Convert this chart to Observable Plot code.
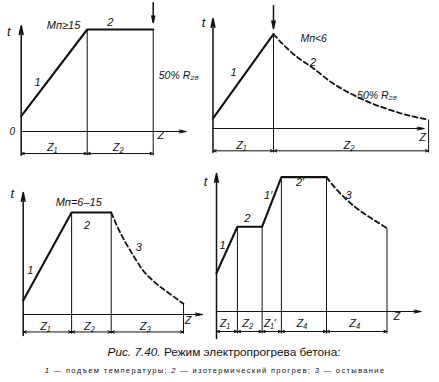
<!DOCTYPE html>
<html><head><meta charset="utf-8">
<script src="https://cdn.jsdelivr.net/npm/d3@7"></script>
<script src="https://cdn.jsdelivr.net/npm/@observablehq/plot@0.6"></script>
<style>
body{margin:0;background:#fff;}
#wrap{position:relative;width:439px;height:382px;overflow:hidden;}
#wrap svg{position:absolute;left:0;top:0;overflow:visible;background:transparent;}
#cap1{position:absolute;top:345px;left:0;width:448px;text-align:center;font-family:"Liberation Sans",sans-serif;font-size:11.8px;color:#111;}
#cap1 i{font-style:italic;}
#cap2{position:absolute;top:366px;left:0;width:430px;text-align:center;font-family:"Liberation Sans",sans-serif;font-size:7.6px;letter-spacing:1.3px;color:#111;}
</style></head>
<body>
<div id="wrap">
<div id="cap1"><i>Рис. 7.40.</i> Режим электропрогрева бетона:</div>
<div id="cap2"><i>1</i> — подъем температуры; <i>2</i> — изотермический прогрев; <i>3</i> — остывание</div>
</div>
<script>
// ---------- data (z = time units, t = temperature units) ----------
// Panel A: Mп ≥ 15 — rise, isothermal hold
const aSolidZ = [0, 6, 12];
const aSolidT = [12, 80, 80];
const aBounds = [0, 6, 12];
const aStages = ["Z₁", "Z₂"];

// Panel B: Mп < 6 — rise, cooling
const bSolidZ = [0, 5.5];
const bSolidT = [8, 74];
const bDashZ = [5.5, 6.6, 7.8, 9, 10.8, 12.6, 14.5, 16.3, 18.1, 19.6];
const bDashT = [74, 64, 55, 48, 36, 27, 19.5, 14, 9.5, 7];
const bBounds = [0, 5.5, 19.6];
const bStages = ["Z₁", "Z₂"];

// Panel C: Mп = 6–15 — rise, hold, cooling
const cSolidZ = [0, 4.4, 8];
const cSolidT = [11, 80, 80];
const cDashZ = [8, 8.5, 9.27, 10.03, 10.9, 12, 13.36, 14.57];
const cDashT = [80, 70, 57, 46, 34.5, 25, 16, 8.4];
const cBounds = [0, 4.4, 8, 14.57];
const cStages = ["Z₁", "Z₂", "Z₃"];

// Panel D: two-step rise and hold, cooling
const dSolidZ = [0, 1.9, 4.15, 5.9, 10];
const dSolidT = [24, 53, 53, 84, 84];
const dDashZ = [10, 10.75, 11.66, 12.57, 13.8, 14.7, 15.5];
const dDashT = [84, 77.5, 71, 65.5, 59.5, 55.5, 52];
const dBounds = [0, 1.9, 4.15, 5.9, 10, 15.5];
const dStages = ["Z₁", "Z₂", "Z₁′", "Z₄", "Z₄"];

// curve annotations [text, z, t, flags]
const aNotes = [["Mп≥15", 3.85, 83.1, "b"], ["2", 8.1, 85.3], ["1", 1.48, 38.4], ["50% R₂₈", 12.5, 43.9, "s"]];
const bNotes = [["1", 1.86, 43.9], ["Mп<6", 7.95, 70.4, "sb"], ["2", 9.1, 52], ["50% R₂₈", 13.1, 25.9, "s"]];
const cNotes = [["Mп=6–15", 5.05, 87.8, "b"], ["2", 5.8, 69.8], ["1", 0.64, 34.5], ["3", 10.5, 52.8]];
const dNotes = [["1", 0.55, 41], ["2", 2.8, 58], ["1′", 4.7, 72.5], ["2′", 7.6, 80.6], ["3", 12, 72.5]];

// ---------- layout ----------
const panels = [
  {solidZ: aSolidZ, solidT: aSolidT, dashZ: [], dashT: [], bounds: aBounds, stages: aStages, notes: aNotes,
   origin: [20.7, 131], k: [11, 1.275], yAxis: [-18.8, 83], xEnd: 15, dimT: -17.3, labT: -12.2, vBot: -18.8,
   down: [12, 101, 85.5], zLab: [12.4, -3.1, "start"], tLab: [-1.13, 78], zero: true},
  {solidZ: bSolidZ, solidT: bSolidT, dashZ: bDashZ, dashT: bDashT, bounds: bBounds, stages: bStages, notes: bNotes,
   origin: [212.5, 128], k: [11, 1.275], yAxis: [-18.8, 86.3], xEnd: 19.2, dimT: -17.5, labT: -13.6, vBot: -18.8,
   down: [5.5, 96.5, 78.4], zLab: [19.05, -7, "middle"], tLab: [-0.86, 83]},
  {solidZ: cSolidZ, solidT: cSolidT, dashZ: cDashZ, dashT: cDashT, bounds: cBounds, stages: cStages, notes: cNotes,
   origin: [22.7, 314], k: [11, 1.275], yAxis: [-16.5, 95.7], xEnd: 16.3, dimT: -13.7, labT: -9.3, vBot: -15,
   zLab: [15, -4.7, "middle"], tLab: [-1, 95]},
  {solidZ: dSolidZ, solidT: dSolidT, dashZ: dDashZ, dashT: dDashT, bounds: dBounds, stages: dStages, notes: dNotes,
   origin: [216, 311], k: [11, 1.6], yAxis: [-16.9, 86.25], xEnd: 18.6, dimT: -12.5, labT: -7.5, vBot: -13.75,
   zLab: [16.4, -3.1, "middle"], tLab: [-1, 80.8]}
];

const ink = "#111";
const FONT = "Liberation Sans, Arial, sans-serif";

function valueAt(p, z) {
  const all = p.solidZ.map((v, i) => ({z: v, t: p.solidT[i]})).concat(p.dashZ.map((v, i) => ({z: v, t: p.dashT[i]})));
  const hit = all.find(d => Math.abs(d.z - z) < 1e-9);
  return hit ? hit.t : 0;
}

function panel(p) {
  const solid = p.solidZ.map((z, i) => ({z, t: p.solidT[i]}));
  const dash = p.dashZ.map((z, i) => ({z, t: p.dashT[i]}));
  const verts = p.bounds.slice(1).map(z => ({z, t1: valueAt(p, z), t2: p.vBot}));
  const dims = [];
  const stageLabels = [];
  for (let i = 0; i < p.bounds.length - 1; i++) {
    const a = p.bounds[i], b = p.bounds[i + 1], m = (a + b) / 2;
    dims.push({x1: m, x2: a}, {x1: m, x2: b});
    stageLabels.push({z: m, label: p.stages[i]});
  }
  const notes = p.notes.map(([text, z, t, f]) => ({text, z, t, f: f || ""}));
  const marks = [
    // axes
    Plot.arrow([0], {x1: 0, y1: p.yAxis[0], x2: 0, y2: p.yAxis[1], stroke: ink, strokeWidth: 1.5, headLength: 9, headAngle: 24}),
    Plot.arrow([0], {x1: 0, y1: 0, x2: p.xEnd, y2: 0, stroke: ink, strokeWidth: 1.2, headLength: 9, headAngle: 24}),
    // stage boundaries
    Plot.link(verts, {x1: "z", x2: "z", y1: "t1", y2: "t2", stroke: ink, strokeWidth: 1}),
    // dimension line
    Plot.arrow(dims, {x1: "x1", x2: "x2", y1: p.dimT, y2: p.dimT, stroke: ink, strokeWidth: 1, headLength: 5, headAngle: 40}),
    // curves
    Plot.line(solid, {x: "z", y: "t", stroke: ink, strokeWidth: 2.1, strokeLinejoin: "miter"}),
  ];
  if (dash.length) marks.push(Plot.line(dash, {x: "z", y: "t", stroke: ink, strokeWidth: 1.8, strokeDasharray: "5,3.2", curve: "monotone-x"}));
  if (p.down) marks.push(Plot.arrow([0], {x1: p.down[0], x2: p.down[0], y1: p.down[1], y2: p.down[2], stroke: ink, strokeWidth: 1.5, headLength: 8, headAngle: 24}));
  marks.push(
    Plot.text(stageLabels, {x: "z", y: p.labT, text: "label", dx: -2, fontSize: 11, fontStyle: "italic", fontFamily: FONT, fill: ink}),
    Plot.text(notes.filter(d => !d.f.includes("s")), {x: "z", y: "t", text: "text", fontSize: 11, fontStyle: "italic",
      fontWeight: d => d.f.includes("b") ? "bold" : "normal", fontFamily: FONT, fill: ink}),
    Plot.text(notes.filter(d => d.f.includes("s")), {x: "z", y: "t", text: "text", textAnchor: "start", fontSize: 10.5, fontStyle: "italic",
      fontWeight: d => d.f.includes("b") ? "bold" : "normal", fontFamily: FONT, fill: ink}),
    Plot.text([p.zLab], {x: d => d[0], y: d => d[1], text: ["Z"], textAnchor: p.zLab[2], fontSize: 11, fontStyle: "italic", fontFamily: FONT, fill: ink}),
    Plot.text([p.tLab], {x: d => d[0], y: d => d[1], text: ["t"], fontSize: 13, fontStyle: "italic", fontFamily: FONT, fill: ink})
  );
  if (p.zero) marks.push(Plot.text([0], {x: -0.8, y: 0, text: ["0"], fontSize: 10, fontStyle: "italic", fontFamily: FONT, fill: ink}));
  return Plot.plot({
    width: 439, height: 340, margin: 0,
    x: {type: "linear", domain: [0, 10], range: [p.origin[0], p.origin[0] + 10 * p.k[0]], axis: null},
    y: {type: "linear", domain: [0, 10], range: [p.origin[1], p.origin[1] - 10 * p.k[1]], axis: null},
    style: {background: "transparent", overflow: "visible"},
    marks
  });
}

const wrap = document.getElementById("wrap");
for (const p of panels) wrap.appendChild(panel(p));
</script>
</body></html>
